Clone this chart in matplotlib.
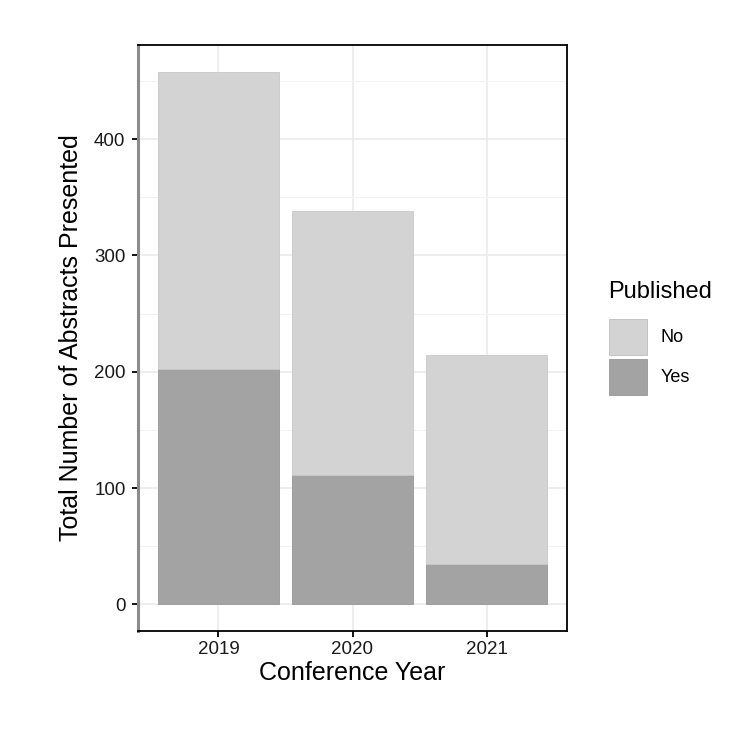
import matplotlib
matplotlib.use('Agg')
import matplotlib.pyplot as plt
from matplotlib.patches import Rectangle
import numpy as np

# values
years = ['2019', '2020', '2021']
published_yes = [202, 111, 35]
published_no = [256, 227, 179]  # stacked on top of "Yes"

col_no = '#d3d3d3'
col_yes = '#a3a3a3'

plt.rcParams['font.family'] = ['Liberation Sans', 'DejaVu Sans']

fig = plt.figure(figsize=(7.5, 7.37), dpi=100)
ax = fig.add_axes([138 / 750, 1 - 631 / 737, 429 / 750, 586 / 737])

x = np.arange(1, len(years) + 1)
ax.bar(x, published_yes, width=0.9, color=col_yes, edgecolor='#969696', linewidth=0.6, zorder=3)
ax.bar(x, published_no, width=0.9, bottom=published_yes, color=col_no,
       edgecolor='#c8c8c8', linewidth=0.6, zorder=3)

totals = np.array(published_yes) + np.array(published_no)
ymax = totals.max()
ax.set_ylim(-0.05 * ymax, ymax * 1.05)
ax.set_xlim(0.4, 3.6)

ax.set_xticks(x)
ax.set_xticklabels(years)
ax.set_yticks([0, 100, 200, 300, 400])
ax.set_yticks([50, 150, 250, 350, 450], minor=True)
ax.grid(True, which='major', color='#ebebeb', linewidth=1.2, zorder=0)
ax.grid(True, which='minor', axis='y', color='#f2f2f2', linewidth=0.7, zorder=0)
ax.set_axisbelow(True)

ax.tick_params(axis='both', which='major', length=4, width=1.3, colors='black',
               labelsize=13.5, labelcolor='#1a1a1a')
ax.tick_params(axis='x', pad=3.5)
ax.tick_params(axis='y', pad=5)
ax.tick_params(axis='y', which='minor', length=0)
for side in ['top', 'right', 'bottom']:
    ax.spines[side].set_color('black')
    ax.spines[side].set_linewidth(1.3)
ax.spines['left'].set_color('#8c8c8c')
ax.spines['left'].set_linewidth(2.2)

ax.set_xlabel('Conference Year', fontsize=18, labelpad=2)
ax.set_ylabel('Total Number of Abstracts Presented', fontsize=18, labelpad=8)

# legend drawn in figure pixel coordinates
fig.text(608 / 750, 1 - 292 / 737, 'Published', fontsize=17, va='center', ha='left')
for i, (lab, c) in enumerate([('No', col_no), ('Yes', col_yes)]):
    top = 319 + i * 40
    fig.patches.append(Rectangle((609 / 750, 1 - (top + 36) / 737), 38 / 750, 36 / 737,
                                 transform=fig.transFigure, facecolor=c,
                                 edgecolor='#bdbdbd' if i == 0 else '#969696', linewidth=0.6))
    fig.text(661 / 750, 1 - (top + 19) / 737, lab, fontsize=13, va='center', ha='left')

fig.savefig('out.png', dpi=100, facecolor='white')
